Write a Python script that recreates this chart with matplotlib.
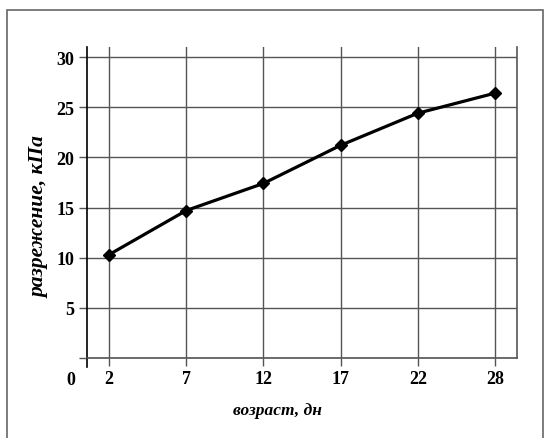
import matplotlib
matplotlib.use("Agg")
import matplotlib.pyplot as plt
from matplotlib.patches import Rectangle

# --- dati ---
ages = ["2", "7", "12", "17", "22", "28"]
vacuum = [10.3, 14.7, 17.4, 21.2, 24.4, 26.4]
y_ticks = [0, 5, 10, 15, 20, 25, 30]

plt.rcParams['font.family'] = ['Liberation Serif', 'DejaVu Serif']
plt.rcParams['font.weight'] = 'bold'

W, H = 545, 439
fig = plt.figure(figsize=(W / 100, H / 100), dpi=100)

# cornice esterna
fig.patches.append(Rectangle((7 / W, -0.01), (543 - 7) / W, (H - 11) / H + 0.01,
                             transform=fig.transFigure, fill=False,
                             edgecolor='#666666', lw=1.2))

ax = fig.add_axes([87 / W, 80 / H, 430 / W, 311 / H])
idx = list(range(len(ages)))

ax.set_xlim(-0.285, 5.285)
ax.set_ylim(0, 31)

grid_c = '#555555'
ax.set_xticks(idx)
ax.set_xticklabels(ages, fontsize=13, fontweight='bold')
ax.set_yticks(y_ticks)
ax.set_yticklabels([''] + [str(v) for v in y_ticks[1:]], fontsize=13, fontweight='bold')
ax.grid(True, color=grid_c, lw=1.0)
ax.tick_params(axis='both', direction='out', length=6, width=1.0, color=grid_c, pad=3)

ax.spines['top'].set_visible(False)
ax.spines['left'].set_color('black')
ax.spines['left'].set_linewidth(1.2)
ax.spines['bottom'].set_color(grid_c)
ax.spines['bottom'].set_linewidth(1.2)
ax.spines['right'].set_color(grid_c)
ax.spines['right'].set_linewidth(1.2)

# tacca sotto l'asse y e lo "0" dell'origine
ax.plot([-0.285, -0.285], [0, -0.9], color='black', lw=1.2, clip_on=False)
ax.text(-0.5, -2.1, "0", fontsize=13, fontweight='bold',
        ha='center', va='center', clip_on=False)

ax.plot(idx, vacuum, color='black', lw=2.3, marker='D', markersize=6.5, zorder=5)

ax.set_xlabel("возраст, дн", fontsize=12.5, fontstyle='italic', fontweight='bold')
ax.xaxis.set_label_coords((277 - 87) / 430, (359 - 403) / 311)
ax.set_ylabel("разрежение, кПа", fontsize=15.5, fontstyle='italic', fontweight='bold')
ax.yaxis.set_label_coords((50 - 87) / 430, (359 - 217) / 311)

fig.savefig("out.png", dpi=100)
